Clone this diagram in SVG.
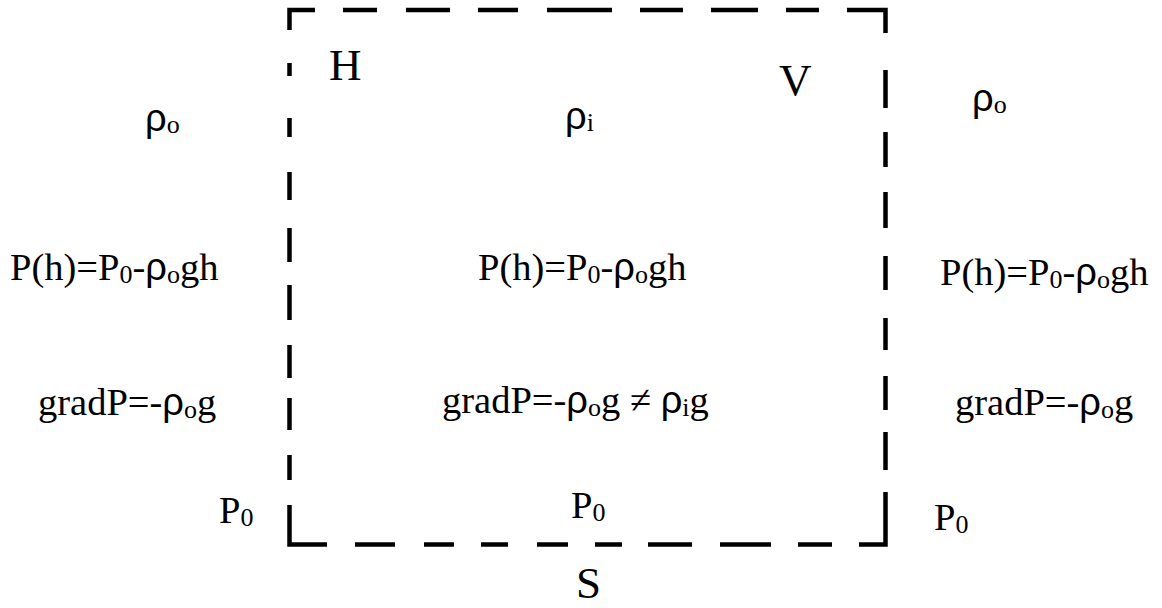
<svg xmlns="http://www.w3.org/2000/svg" width="1162" height="608" viewBox="0 0 1162 608">
<style>
.bg{fill:#fff}
.frame{fill:none;stroke:#000;stroke-width:4.5;stroke-linecap:butt;stroke-linejoin:miter}
.t{font-family:"Liberation Serif","Times New Roman",serif;font-size:38.5px;fill:#000}
.big{font-family:"Liberation Serif","Times New Roman",serif;font-size:45px;fill:#000}
.gr{font-family:"Liberation Sans",Arial,sans-serif;font-size:38px}
.sub{font-family:"Liberation Serif","Times New Roman",serif;font-size:26px}
</style>
<rect class="bg" x="0" y="0" width="1162" height="608"/>
<g id="frame">
<path class="frame" d="M289.5,30 V10 H315 M343,10 H377 M406,10 H450 M478,10 H518 M547,10 H612 M640,10 H683 M711,10 H758 M786,10 H819 M847,10 H885.5 V33
M289.5,63 V76 M289.5,118 V137 M289.5,172 V200 M289.5,228 V262 M289.5,285 V320 M289.5,345 V378 M289.5,398 V430 M289.5,455 V480
M289.5,505 V544.5 H327 M355,544.5 H395 M424,544.5 H454 M481,544.5 H508 M537,544.5 H568 M595,544.5 H622 M648,544.5 H692 M720,544.5 H771 M798,544.5 H832 M859,544.5 H885.5 V492
M885.5,70 V108 M885.5,132 V167 M885.5,192 V228 M885.5,256 V290 M885.5,318 V350 M885.5,376 V410 M885.5,432 V470"/>
</g>
<g id="label-H"><text class="big" x="329" y="80">H</text></g>
<g id="label-V"><text class="big" x="779" y="95">V</text></g>
<g id="label-S"><text class="big" x="576" y="598">S</text></g>
<g id="rho-left"><text class="t" x="145" y="131"><tspan class="gr">ρ</tspan><tspan class="sub" dy="2">o</tspan></text></g>
<g id="rho-inner"><text class="t" x="565" y="129"><tspan class="gr">ρ</tspan><tspan class="sub" dy="2">i</tspan></text></g>
<g id="rho-right"><text class="t" x="972" y="111"><tspan class="gr">ρ</tspan><tspan class="sub" dy="2">o</tspan></text></g>
<g id="p-left"><text class="t" x="10" y="280">P(h)=P<tspan class="sub" dy="3">0</tspan><tspan dy="-3">-</tspan><tspan class="gr">ρ</tspan><tspan class="sub" dy="3">o</tspan><tspan dy="-3">gh</tspan></text></g>
<g id="p-inner"><text class="t" x="478" y="280">P(h)=P<tspan class="sub" dy="3">0</tspan><tspan dy="-3">-</tspan><tspan class="gr">ρ</tspan><tspan class="sub" dy="3">o</tspan><tspan dy="-3">gh</tspan></text></g>
<g id="p-right"><text class="t" x="940" y="285">P(h)=P<tspan class="sub" dy="3">0</tspan><tspan dy="-3">-</tspan><tspan class="gr">ρ</tspan><tspan class="sub" dy="3">o</tspan><tspan dy="-3">gh</tspan></text></g>
<g id="grad-left"><text class="t" x="38" y="415">gradP=-<tspan class="gr">ρ</tspan><tspan class="sub" dy="3">o</tspan><tspan dy="-3">g</tspan></text></g>
<g id="grad-inner"><text class="t" x="442" y="413">gradP=-<tspan class="gr">ρ</tspan><tspan class="sub" dy="3">o</tspan><tspan dy="-3">g ≠ </tspan><tspan class="gr">ρ</tspan><tspan class="sub" dy="3">i</tspan><tspan dy="-3">g</tspan></text></g>
<g id="grad-right"><text class="t" x="955" y="415">gradP=-<tspan class="gr">ρ</tspan><tspan class="sub" dy="3">o</tspan><tspan dy="-3">g</tspan></text></g>
<g id="p0-left"><text class="t" x="219" y="523">P<tspan class="sub" dy="3">0</tspan></text></g>
<g id="p0-inner"><text class="t" x="571" y="518">P<tspan class="sub" dy="3">0</tspan></text></g>
<g id="p0-right"><text class="t" x="934" y="530">P<tspan class="sub" dy="3">0</tspan></text></g>
</svg>
